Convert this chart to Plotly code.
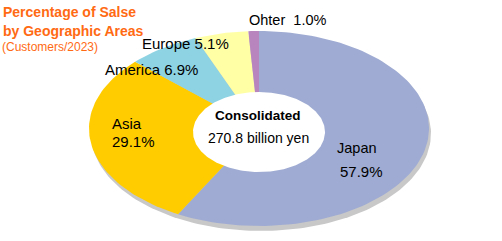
import numpy as np
import plotly.graph_objects as go

# ---- data ----
regions = ["Japan", "Asia", "America", "Europe", "Ohter"]
shares = [57.9, 29.1, 6.9, 5.1, 1.0]
colors = ["#9FABD2", "#FFCC00", "#8DD3E3", "#FFFFA6", "#B985BE"]
center_title = "Consolidated"
center_value = "270.8 billion yen"
title_lines = ["Percentage of Salse", "by Geographic Areas"]
subtitle = "(Customers/2023)"

W, H = 502, 241
cx, cy = 259, 128.5      # pie centre (pixels)
rx, ry = 170, 97.5       # outer ellipse semi-axes
hx, hy, hcx, hcy = 66, 40, 259, 132  # hole ellipse

fig = go.Figure()


def ellipse(x0, y0, ax, ay, n=240):
    t = np.linspace(0, 2 * np.pi, n)
    return x0 + ax * np.sin(t), y0 - ay * np.cos(t)


# shadow
sx, sy = ellipse(cx + 2, cy + 5, rx, ry)
fig.add_trace(go.Scatter(x=sx, y=sy, fill="toself", fillcolor="#C8C8C8",
                         line=dict(width=0), mode="lines", hoverinfo="skip"))

# wedges (clockwise from 12 o'clock)
total = sum(shares)
start = 0.0
for name, v, c in zip(regions, shares, colors):
    t0 = start / total * 2 * np.pi
    t1 = (start + v) / total * 2 * np.pi
    t = np.linspace(t0, t1, max(3, int(200 * v / total) + 3))
    xs = np.concatenate([[cx], cx + rx * np.sin(t), [cx]])
    ys = np.concatenate([[cy], cy - ry * np.cos(t), [cy]])
    fig.add_trace(go.Scatter(x=xs, y=ys, fill="toself", fillcolor=c,
                             line=dict(width=0), mode="lines", name=name,
                             hoverinfo="name"))
    start += v

# hole
hxs, hys = ellipse(hcx, hcy, hx, hy)
fig.add_trace(go.Scatter(x=hxs, y=hys, fill="toself", fillcolor="white",
                         line=dict(width=0), mode="lines", hoverinfo="skip"))

FONT = "Liberation Sans, Arial, sans-serif"
ORANGE = "#FF6A13"

ann = []
for i, line in enumerate(title_lines):
    ann.append(dict(x=1, y=12 + 19 * i, xanchor="left", yanchor="middle",
                    text="<b>" + line + "</b>",
                    font=dict(family=FONT, size=14, color=ORANGE)))
ann.append(dict(x=0, y=47, xanchor="left", yanchor="middle",
                text=subtitle, font=dict(family=FONT, size=12, color=ORANGE)))


def lab(x, y, text, anchor="left", size=15, bold=False):
    if bold:
        text = "<b>" + text + "</b>"
    ann.append(dict(x=x, y=y, xanchor=anchor, yanchor="middle", text=text,
                    font=dict(family=FONT, size=size, color="#000000")))


def pct(i):
    return f"{shares[i]:.1f}%"


lab(357, 148, regions[0], "center", 14.5)
lab(361, 171, pct(0), "center")
lab(110, 123, regions[1])
lab(110, 141, pct(1))
lab(103, 69, f"{regions[2]} {pct(2)}")
lab(140, 43, f"{regions[3]} {pct(3)}")
lab(247, 20, f"{regions[4]}&nbsp; {pct(4)}", size=14.5)
lab(258, 115, center_title, "center", 13.5, True)
lab(258, 138, center_value, "center", 14)

for a_ in ann:
    a_.update(xref="x", yref="y", showarrow=False)

fig.update_layout(
    width=W, height=H, margin=dict(l=0, r=0, t=0, b=0),
    paper_bgcolor="white", plot_bgcolor="white", showlegend=False,
    xaxis=dict(range=[0, W], visible=False, fixedrange=True),
    yaxis=dict(range=[H, 0], visible=False, fixedrange=True),
    annotations=ann,
)
fig.write_html("out.html", config={"displayModeBar": False})
